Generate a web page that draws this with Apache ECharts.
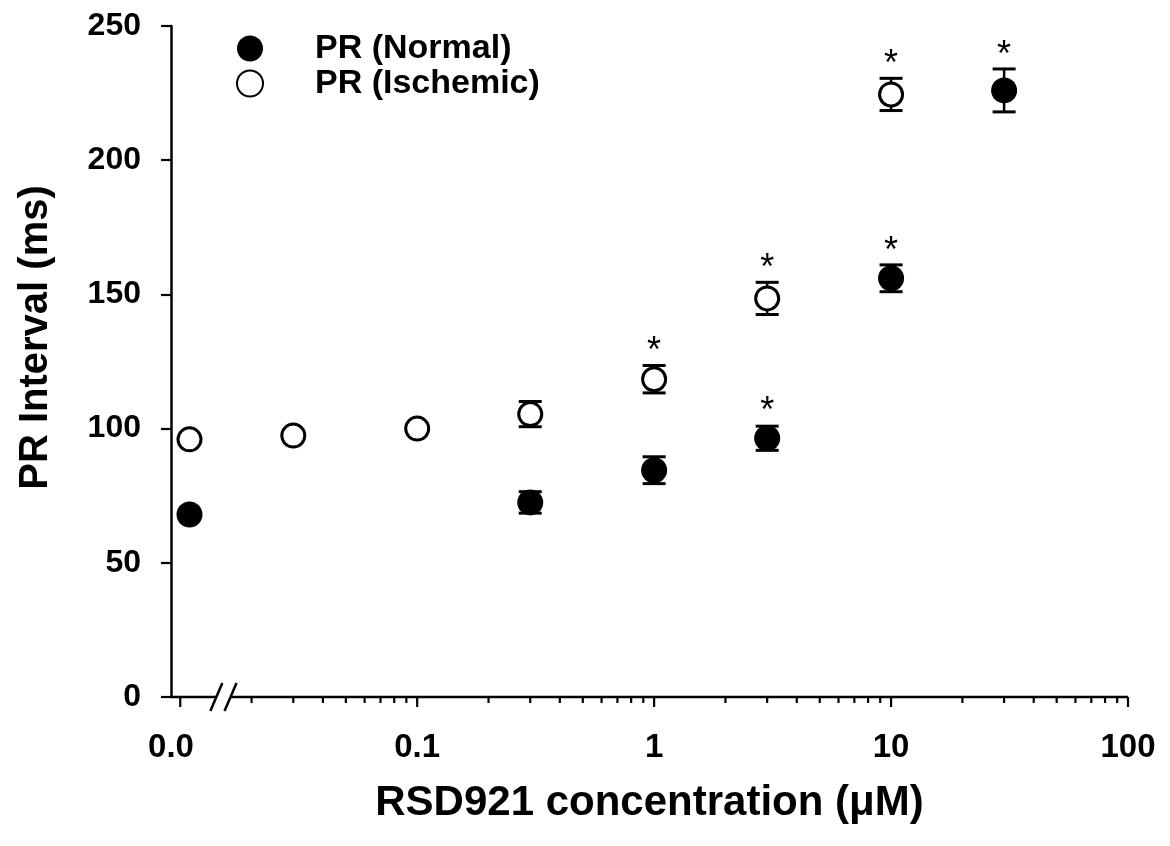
<!DOCTYPE html>
<html>
<head>
<meta charset="utf-8">
<script src="https://cdn.jsdelivr.net/npm/echarts@6/dist/echarts.min.js"></script>
<style>
  html, body { margin: 0; padding: 0; background: #fff; }
  #chart { width: 1170px; height: 846px; }
</style>
</head>
<body>
<div id="chart"></div>
<script>
// ---------------- data ----------------
const X_AXIS_MIN = 0.00914;   // log axis start (left of the break)
const X_AXIS_MAX = 100;
const CONTROL_X = 0.01094;    // where the 0 µM (control) points are plotted

const normalConc = [CONTROL_X, 0.3, 1, 3, 10, 30];
const normalMean = [68, 72.5, 84.5, 96.4, 156, 226];
const normalSem  = [0, 4, 5, 4.5, 5, 8];
const normalSig  = [0, 0, 0, 1, 1, 1];

const ischConc = [CONTROL_X, 0.03, 0.1, 0.3, 1, 3, 10];
const ischMean = [96, 97.4, 100, 105.4, 118.4, 148.5, 224.5];
const ischSem  = [0, 0, 0, 4.7, 5.1, 6, 6];
const ischSig  = [0, 0, 0, 0, 1, 1, 1];

const xMajorTicks = [0.01, 0.1, 1, 10, 100];
const xMinorTicks = [0.02, 0.03, 0.04, 0.05, 0.06, 0.07, 0.08, 0.09,
                     0.2, 0.3, 0.4, 0.5, 0.6, 0.7, 0.8, 0.9,
                     2, 3, 4, 5, 6, 7, 8, 9,
                     20, 30, 40, 50, 60, 70, 80, 90];
const xTickLabelValues = [X_AXIS_MIN, 0.1, 1, 10, 100];
const xTickLabels = ['0.0', '0.1', '1', '10', '100'];
const xBreak = [0.0142, 0.0163];

const seriesNames = ['PR (Normal)', 'PR (Ischemic)'];
const xTitle = 'RSD921 concentration (\u03BCM)';
const yTitle = 'PR Interval (ms)';

// ---------------- styling ----------------
const FONT = '"Liberation Sans", Arial, Helvetica, sans-serif';
const AXIS_W = 2.5;

function pts(xs, ys) { return xs.map((x, i) => [x, ys[i]]); }
function errData(xs, ys, es, sig) { return xs.map((x, i) => [x, ys[i], es[i], sig[i]]); }

function errRender(params, api) {
  const x = api.value(0), m = api.value(1), e = api.value(2), sig = api.value(3);
  const c = api.coord([x, m]);
  const children = [];
  let topY = c[1] - 13;
  if (e > 0) {
    const t = api.coord([x, m + e]);
    const b = api.coord([x, m - e]);
    const hw = 11.5;
    children.push({ type: 'line', shape: { x1: c[0], y1: t[1], x2: c[0], y2: b[1] }, style: { stroke: '#000', lineWidth: 2.5 } });
    children.push({ type: 'line', shape: { x1: c[0] - hw, y1: t[1], x2: c[0] + hw, y2: t[1] }, style: { stroke: '#000', lineWidth: 3 } });
    children.push({ type: 'line', shape: { x1: c[0] - hw, y1: b[1], x2: c[0] + hw, y2: b[1] }, style: { stroke: '#000', lineWidth: 3 } });
    topY = Math.min(topY, t[1]);
  }
  if (sig) {
    children.push({ type: 'text', style: { text: '*', x: c[0], y: topY - 13, align: 'center', verticalAlign: 'middle',
      fontSize: 36, fontFamily: FONT, fill: '#000' } });
  }
  return { type: 'group', children: children };
}

function axisLineRender(params, api) {
  const a = api.coord([api.value(0), 0]);
  const b = api.coord([api.value(1), 0]);
  return { type: 'line', shape: { x1: a[0], y1: a[1], x2: b[0], y2: b[1] }, style: { stroke: '#000', lineWidth: AXIS_W } };
}
function tickRender(params, api) {
  const p = api.coord([api.value(0), 0]);
  const len = api.value(1) ? 10 : 6;
  return { type: 'line', shape: { x1: p[0], y1: p[1], x2: p[0], y2: p[1] + len }, style: { stroke: '#000', lineWidth: 2.2 } };
}
function labelRender(params, api) {
  const p = api.coord([api.value(0), 0]);
  return { type: 'text', style: { text: xTickLabels[params.dataIndex], x: p[0], y: p[1] + 51, align: 'center', verticalAlign: 'middle',
    fontSize: 33, fontWeight: 'bold', fontFamily: FONT, fill: '#000' } };
}
function breakRender(params, api) {
  const p = api.coord([api.value(0), 0]);
  return { type: 'line', shape: { x1: p[0] - 6, y1: p[1] + 14, x2: p[0] + 6, y2: p[1] - 14 }, style: { stroke: '#000', lineWidth: 2.5 } };
}

const chart = echarts.init(document.getElementById('chart'), null, { renderer: 'canvas' });
chart.setOption({
  animation: false,
  backgroundColor: '#fff',
  grid: { left: 171, right: 42, top: 26, bottom: 149 },
  legend: {
    data: seriesNames,
    orient: 'vertical',
    left: 231, top: 26,
    itemWidth: 26, itemHeight: 26, itemGap: 0,
    selectedMode: false,
    textStyle: { fontSize: 34, fontWeight: 'bold', fontFamily: FONT, color: '#000', lineHeight: 35, padding: [0, 0, 0, 47] }
  },
  xAxis: {
    type: 'log', logBase: 10, min: X_AXIS_MIN, max: X_AXIS_MAX,
    axisLine: { show: false }, axisTick: { show: false }, axisLabel: { show: false }, splitLine: { show: false },
    name: xTitle, nameLocation: 'middle', nameGap: 85,
    nameTextStyle: { fontSize: 42, fontWeight: 'bold', fontFamily: FONT, color: '#000' }
  },
  yAxis: {
    type: 'value', min: 0, max: 250, interval: 50,
    axisLine: { show: true, lineStyle: { color: '#000', width: AXIS_W } },
    axisTick: { show: true, inside: false, length: 10, lineStyle: { color: '#000', width: 2.2 } },
    axisLabel: { fontSize: 32, fontWeight: 'bold', fontFamily: FONT, color: '#000', margin: 30 },
    splitLine: { show: false },
    name: yTitle, nameLocation: 'middle', nameGap: 115,
    nameTextStyle: { fontSize: 40, fontWeight: 'bold', fontFamily: FONT, color: '#000', padding: [0, 0, 0, 48] }
  },
  series: [
    { type: 'custom', name: 'xaxisline', z: 1, silent: true, clip: false, renderItem: axisLineRender,
      data: [[X_AXIS_MIN, xBreak[0]], [xBreak[1], X_AXIS_MAX]] },
    { type: 'custom', name: 'xticks', z: 1, silent: true, clip: false, renderItem: tickRender,
      data: xMajorTicks.map(v => [v, 1]).concat(xMinorTicks.map(v => [v, 0])) },
    { type: 'custom', name: 'xlabels', z: 1, silent: true, clip: false, renderItem: labelRender,
      data: xTickLabelValues.map(v => [v, 0]) },
    { type: 'custom', name: 'xbreak', z: 1, silent: true, clip: false, renderItem: breakRender,
      data: xBreak.map(v => [v, 0]) },
    { type: 'custom', name: 'errN', z: 2, silent: true, clip: false, renderItem: errRender,
      data: errData(normalConc, normalMean, normalSem, normalSig) },
    { type: 'custom', name: 'errI', z: 2, silent: true, clip: false, renderItem: errRender,
      data: errData(ischConc, ischMean, ischSem, ischSig) },
    { type: 'scatter', name: seriesNames[0], z: 3, symbol: 'circle', symbolSize: 26,
      itemStyle: { color: '#000', opacity: 1 }, emphasis: { disabled: true },
      data: pts(normalConc, normalMean) },
    { type: 'scatter', name: seriesNames[1], z: 3, symbol: 'circle', symbolSize: 23,
      itemStyle: { color: '#fff', borderColor: '#000', borderWidth: 3, opacity: 1 }, emphasis: { disabled: true },
      data: pts(ischConc, ischMean) }
  ]
});
</script>
</body>
</html>
